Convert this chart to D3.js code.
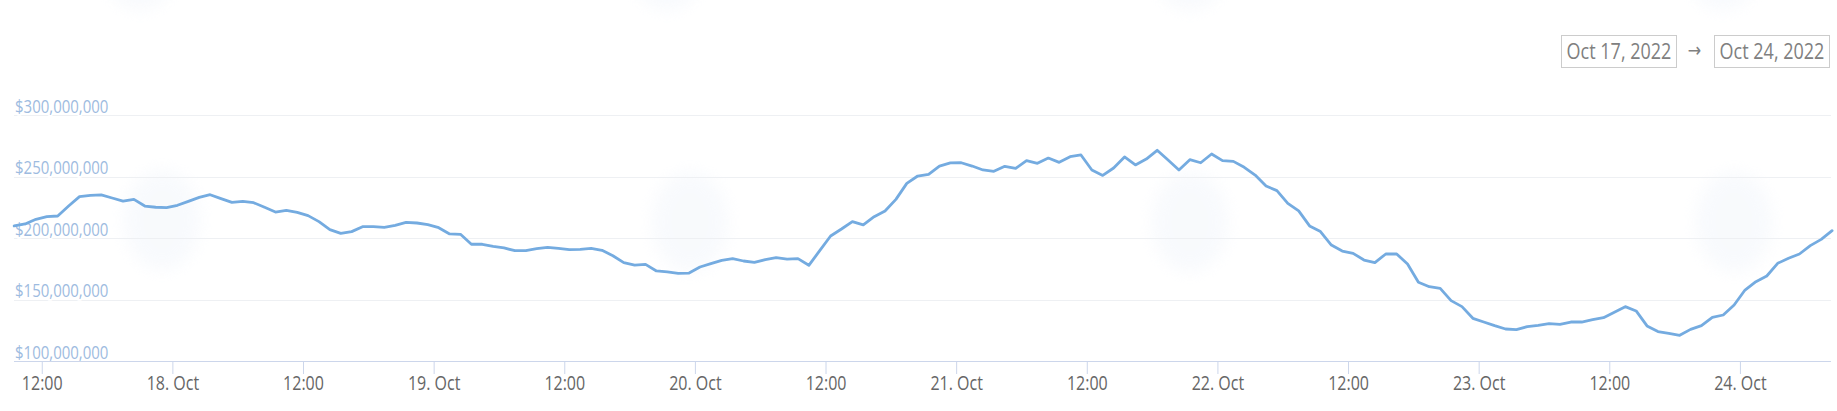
<!DOCTYPE html>
<html>
<head>
<meta charset="utf-8">
<script src="https://cdn.jsdelivr.net/npm/d3@7/dist/d3.min.js"></script>
<style>
  html, body { margin: 0; padding: 0; background: #ffffff; }
  svg { display: block; font-family: "Open Sans", "Noto Sans", sans-serif; }
</style>
</head>
<body>
<svg id="chart" width="1837" height="411"></svg>
<script>
// ---- Data (values in millions of USD, hourly from 17 Oct 2022 09:28 UTC) ----
const seriesStart = Date.UTC(2022, 9, 17, 9, 28);
const volumeMillions = [
  209.8, 211.4, 215.2, 217.3, 217.9, 226.0, 233.6, 234.7, 235.0, 232.5,
  230.0, 231.4, 226.0, 225.0, 224.7, 226.6, 229.8, 233.0, 235.2, 232.0,
  229.0, 229.8, 228.7, 225.0, 221.1, 222.5, 220.9, 218.2, 213.3, 206.8,
  203.8, 205.2, 209.2, 209.2, 208.7, 210.3, 212.7, 212.2, 210.8, 208.4,
  203.3, 203.0, 194.9, 194.9, 193.2, 191.9, 189.7, 189.7, 191.3, 192.4,
  191.6, 190.5, 190.8, 191.6, 190.0, 185.6, 180.0, 178.0, 178.6, 173.2,
  172.4, 171.3, 171.5, 176.4, 179.1, 181.8, 183.2, 181.3, 180.2, 182.4,
  184.0, 182.9, 183.2, 177.8, 189.7, 201.6, 207.3, 213.3, 210.6, 217.3,
  222.0, 231.4, 244.4, 250.4, 251.8, 258.5, 261.0, 261.2, 258.5, 255.3,
  254.2, 258.3, 256.6, 262.9, 260.7, 265.0, 261.5, 266.1, 267.5, 255.3,
  250.9, 256.9, 265.9, 259.4, 264.2, 271.3, 263.4, 255.3, 263.7, 261.2,
  268.3, 262.9, 262.3, 257.5, 251.2, 242.3, 238.5, 228.2, 222.0, 209.8,
  205.2, 194.3, 189.4, 187.5, 182.1, 180.0, 187.0, 187.0, 178.9, 164.0,
  160.4, 159.1, 149.1, 144.2, 134.7, 131.7, 128.7, 126.0, 125.5, 127.9,
  129.0, 130.4, 129.8, 131.7, 131.7, 133.6, 135.2, 139.6, 144.2, 140.7,
  128.5, 123.9, 122.5, 120.9, 125.7, 128.7, 135.5, 137.4, 145.5, 157.7,
  164.5, 169.1, 179.4, 183.5, 187.0, 193.8, 198.9, 206.0
];
const yTickValues = [100000000, 150000000, 200000000, 250000000, 300000000];
const xDomain = [new Date(Date.UTC(2022, 9, 17, 9, 27)), new Date(Date.UTC(2022, 9, 24, 8, 22))];
const yDomain = [100000000, 300000000];
const rangeLabels = ["Oct 17, 2022", "Oct 24, 2022"];

const data = volumeMillions.map((v, i) => ({
  date: new Date(seriesStart + i * 3600 * 1000),
  value: v * 1e6
}));

// ---- Layout ----
const plot = { left: 14, right: 1831, top: 115, bottom: 361 };
const TXT_STRETCH = 1.24;   // text in the reference is vertically stretched
const svg = d3.select("#chart");

const x = d3.scaleTime().domain(xDomain).range([plot.left, plot.right]);
const y = d3.scaleLinear().domain(yDomain).range([plot.bottom, plot.top]);

// faint watermark blobs
const defs = svg.append("defs");
defs.append("filter").attr("id", "soft")
  .attr("x", "-50%").attr("y", "-50%").attr("width", "200%").attr("height", "200%")
  .append("feGaussianBlur").attr("stdDeviation", 8);
const wm = svg.append("g").attr("filter", "url(#soft)").attr("opacity", 0.4);
[[162, 220], [690, 222], [1190, 222], [1734, 222]].forEach(([cx, cy]) => {
  wm.append("ellipse").attr("cx", cx).attr("cy", cy).attr("rx", 38).attr("ry", 50).attr("fill", "#eef3fa");
});
[[140, -20], [667, -20], [1190, -20], [1723, -20]].forEach(([cx, cy]) => {
  wm.append("ellipse").attr("cx", cx).attr("cy", cy).attr("rx", 32).attr("ry", 30).attr("fill", "#eef3fa");
});

// gridlines
svg.append("g")
  .selectAll("line")
  .data(yTickValues.filter(d => d > yDomain[0]))
  .join("line")
  .attr("x1", plot.left).attr("x2", plot.right)
  .attr("y1", d => Math.round(y(d)) + 0.5).attr("y2", d => Math.round(y(d)) + 0.5)
  .attr("stroke", "#eef0f3").attr("stroke-width", 1);

// y labels
const fmt = d3.format("$,");
svg.append("g")
  .selectAll("text")
  .data(yTickValues)
  .join("text")
  .attr("transform", d => `translate(15,${y(d) - 2.5}) scale(1,${TXT_STRETCH})`)
  .attr("fill", "#9dbbe0")
  .attr("font-size", 15)
  .attr("stroke", "#ffffff").attr("stroke-width", 3).attr("paint-order", "stroke")
  .text(d => fmt(d));

// x axis
const xAxis = d3.axisBottom(x)
  .ticks(d3.utcHour.every(12))
  .tickSize(13)
  .tickPadding(10)
  .tickFormat(d => d.getUTCHours() === 0 ? d3.utcFormat("%-d. %b")(d) : d3.utcFormat("%H:%M")(d));

const gx = svg.append("g").attr("transform", `translate(0,${plot.bottom})`).call(xAxis);
gx.select(".domain").attr("stroke", "#ccd6eb").attr("d", `M${plot.left},0.5H${plot.right}`);
gx.selectAll(".tick line").attr("stroke", "#ccd6eb");
gx.selectAll(".tick text")
  .attr("fill", "#666666")
  .attr("font-size", 16)
  .attr("font-family", "'Open Sans', sans-serif")
  .attr("dy", null)
  .attr("y", 0)
  .attr("transform", `translate(0,28.5) scale(1,${TXT_STRETCH})`);

// line
const line = d3.line().x(d => x(d.date)).y(d => y(d.value));
svg.append("path")
  .datum(data)
  .attr("fill", "none")
  .attr("stroke", "#74abe0")
  .attr("stroke-width", 2.8)
  .attr("stroke-linejoin", "round")
  .attr("stroke-linecap", "round")
  .attr("d", line);

// date range boxes
const boxes = svg.append("g");
const boxX = [1561, 1714];
rangeLabels.forEach((lab, i) => {
  boxes.append("rect")
    .attr("x", boxX[i] + 0.5).attr("y", 35.5)
    .attr("width", 115).attr("height", 32)
    .attr("fill", "#ffffff").attr("stroke", "#cccccc");
  boxes.append("text")
    .attr("transform", `translate(${boxX[i] + 58},59) scale(1,${TXT_STRETCH})`)
    .attr("text-anchor", "middle")
    .attr("fill", "#808080")
    .attr("font-size", 18)
    .text(lab);
});
boxes.append("text")
  .attr("transform", `translate(1694.5,57) scale(1,${TXT_STRETCH})`)
  .attr("text-anchor", "middle")
  .attr("fill", "#808080")
  .attr("font-family", "'DejaVu Sans', sans-serif")
  .attr("font-size", 16)
  .text("→");
</script>
</body>
</html>
